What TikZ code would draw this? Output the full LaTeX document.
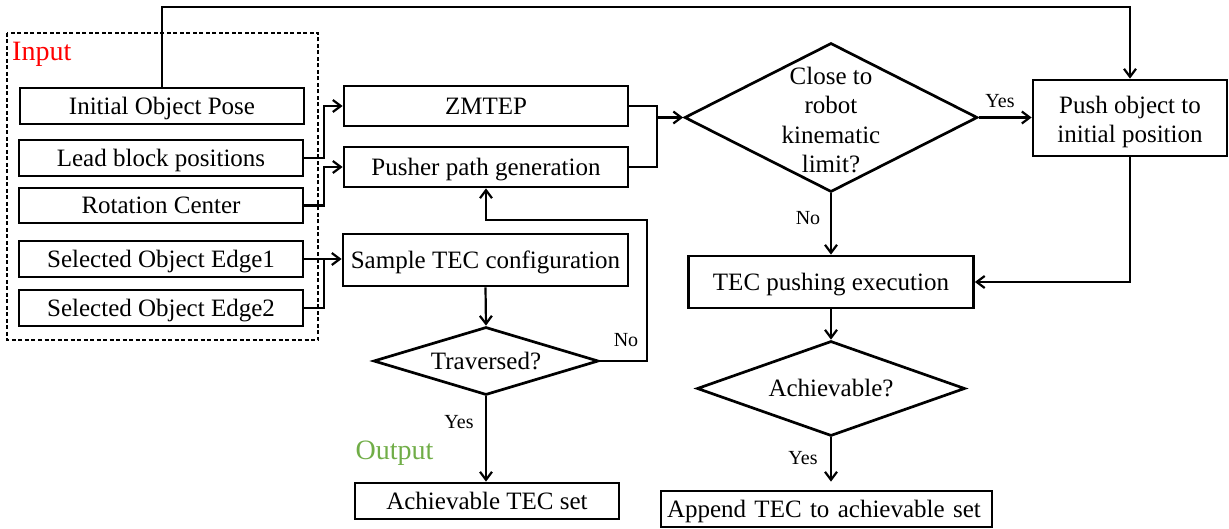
\documentclass[tikz,border=0pt]{standalone}
\usepackage{fontspec}
\setmainfont{Liberation Serif}
\usetikzlibrary{arrows.meta,shapes.geometric}
\definecolor{inred}{RGB}{255,0,0}
\definecolor{outgreen}{RGB}{112,173,71}
\begin{document}
\begin{tikzpicture}[x=1pt,y=-1pt,
  font=\fontsize{25}{29.5}\selectfont,
  box/.style 2 args={draw, rectangle, line width=2.7pt, inner sep=0pt, minimum width=#1, minimum height=#2, text height=17pt, text depth=0.5pt},
  mbox/.style 2 args={draw, rectangle, line width=2.7pt, inner sep=0pt, minimum width=#1, minimum height=#2},
  dia/.style 2 args={draw, diamond, line width=2.7pt, inner sep=0pt, minimum width=#1, minimum height=#2},
  conn/.style={line width=2.2pt},
  arr/.style={line width=2.2pt, -{Straight Barb[length=8pt,width=12pt]}},
  lbl/.style={font=\fontsize{20}{24}\selectfont, inner sep=0pt},
  grp/.style={draw, dash pattern=on 4pt off 2.5pt, line width=1.3pt}]
\useasboundingbox (0,0) rectangle (1229,529);

% input group
\draw[grp] (7,33) rectangle (318,340);
\node[anchor=west, text=inred, font=\fontsize{28}{32}\selectfont, inner sep=0pt] (inlbl) at (12,54) {Input};

\node[box={284pt}{36pt}] (init) at (162,106) {Initial Object Pose};
\node[box={284pt}{36pt}] (lead) at (161,158) {Lead block positions};
\node[box={284pt}{35pt}] (rot) at (161,205.5) {Rotation Center};
\node[box={284pt}{36pt}] (edge1) at (161,259) {Selected Object Edge1};
\node[box={284pt}{36pt}] (edge2) at (161,308) {Selected Object Edge2};

% middle column
\node[box={284pt}{40pt}] (zmtep) at (486,106) {ZMTEP};
\node[box={284pt}{40pt}] (pusher) at (486,167) {Pusher path generation};
\node[box={285pt}{52pt}] (sample) at (485.5,260) {Sample TEC configuration};
\node[dia={225pt}{68pt}] (trav) at (486,361) {};
\node[text height=17pt, text depth=0.5pt, inner sep=0pt] at (trav.center) {Traversed?};
\node[box={264pt}{36pt}] (achset) at (487,501) {Achievable TEC set};
\node[text=outgreen, font=\fontsize{28}{32}\selectfont, inner sep=0pt] (outlbl) at (394.5,453) {Output};

% right part
\node[dia={293pt}{149pt}] (close) at (831,117.5) {};
\node[align=center, inner sep=0pt] at (831,120) {Close to\\robot\\kinematic\\limit?};
\node[mbox={194pt}{76pt}] (push) at (1130,118) {};
\node[align=center, inner sep=0pt] at (1130,122) {Push object to\\initial position};
\node[box={285pt}{52pt}] (tec) at (831,282) {TEC pushing execution};
\node[dia={268pt}{95pt}] (achv) at (831,388.5) {};
\node[text height=17pt, text depth=0.5pt, inner sep=0pt] at (achv.center) {Achievable?};
\node[draw, line width=2.7pt, inner sep=0pt, minimum height=36pt, text width=319pt, inner xsep=6pt, align=left, text height=17pt, text depth=0.5pt] (append) at (826.5,509) {Append TEC to achievable set};

% helper coordinates
\coordinate (topy) at (0,7);
\coordinate (mjx) at (657,0);
\coordinate (ret) at (486,220);

% connectors
\draw[arr] (init.north) |- (topy -| push.north) -- (push.north);
\draw[arr] (lead.east) -- ++(20,0) |- (zmtep.west);
\draw[arr] (rot.east) -- ++(20,0) |- (pusher.west);
\draw[arr] (edge1.east) -- (sample.west |- edge1.east);
\draw[conn] (edge2.east) -- ++(20,0) |- (edge1.east);
\draw[conn] (zmtep.east) -| (mjx |- pusher.east) -- (pusher.east);
\draw[arr] (close.west -| mjx) -- (close.west);
\draw[arr] (close.east) -- (push.west |- close.east);
\draw[arr] (close.south) -- (tec.north);
\draw[arr] (push.south) |- (tec.east);
\draw[arr] (tec.south) -- (achv.north);
\draw[arr, shorten >=8pt] (achv.south) -- (achv.south |- append.north);
\draw[arr] (sample.south) -- (trav.north);
\draw[arr] (trav.south) -- (trav.south |- achset.north);
\draw[arr] (trav.east) -- ++(47,0) |- (ret) -- (pusher.south);

% labels
\node[lbl] (y1) at (1000,101) {Yes};
\node[lbl] (n1) at (808,218) {No};
\node[lbl] (n2) at (626,340) {No};
\node[lbl] (y2) at (459,422) {Yes};
\node[lbl] (y3) at (803,458) {Yes};
\end{tikzpicture}
\end{document}
